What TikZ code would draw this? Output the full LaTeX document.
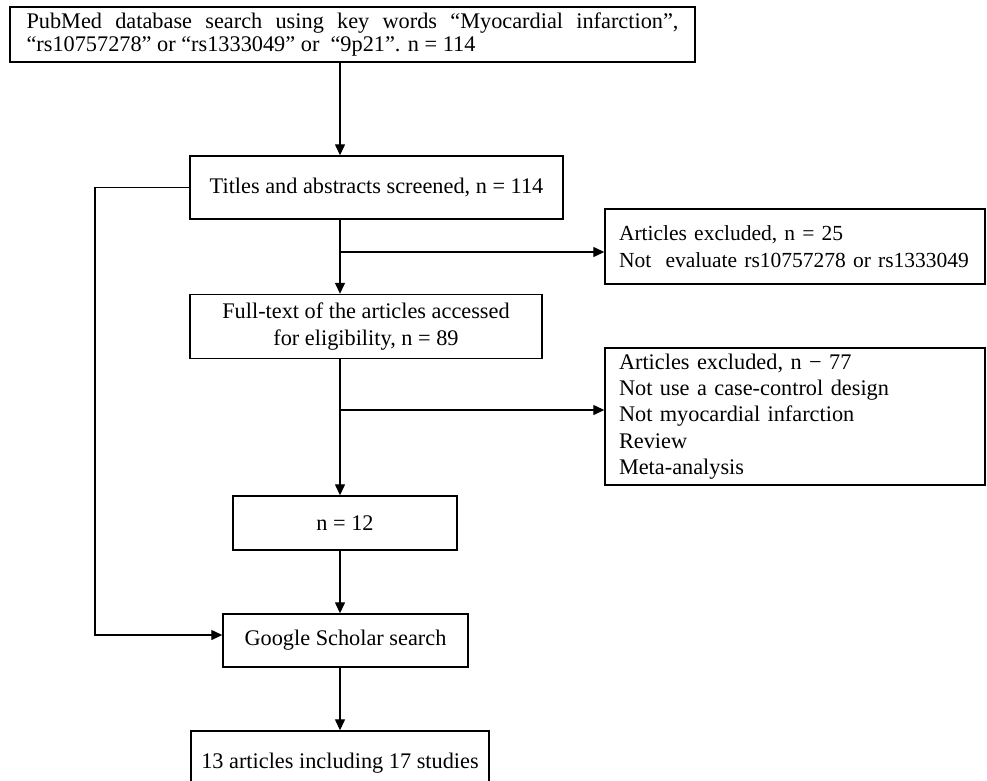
\documentclass[tikz,border=0pt]{standalone}
\usepackage{fontspec}
\setmainfont{Liberation Serif}
\usetikzlibrary{arrows.meta}
\begin{document}
\begin{tikzpicture}[x=1pt,y=-1pt,
  box/.style={draw, line width=1.4pt, inner sep=0pt, font=\fontsize{22.3}{26}\selectfont},
  leftbox/.style={box, align=left, inner xsep=14pt},
  arr/.style={line width=1.3pt, -{Triangle[length=11pt,width=10pt]}},
  ln/.style={line width=1.3pt}]
\useasboundingbox (0,0) rectangle (987,780);
\clip (0,0) rectangle (987,780);

\node[box, minimum width=685pt, minimum height=55pt, text width=652pt, align=justify, inner xsep=16.5pt,
      font=\fontsize{22.3}{22.5}\selectfont] (top) at (352.5,34.5)
  {PubMed database search using key words “Myocardial infarction”,\linebreak
   “rs10757278” or “rs1333049” or\ \ “9p21”. n = 114};

\node[box, minimum width=373pt, minimum height=63pt] (titles) at (376.5,187.5)
  {Titles and abstracts screened, n = 114};

\node[box, minimum width=352pt, minimum height=64pt, align=center,
      font=\fontsize{22.3}{27.5}\selectfont] (full) at (366,326.5)
  {Full-text of the articles accessed\\ for eligibility, n = 89};

\node[leftbox, minimum width=380pt, minimum height=75pt, text width=352pt,
      font=\fontsize{21.5}{27}\selectfont] (excl1) at (795,246.5)
  {\mbox{Articles excluded, n = 25}\\ \mbox{Not\ \ evaluate rs10757278 or rs1333049}};

\node[leftbox, minimum width=380pt, minimum height=137pt, text width=352pt,
      font=\fontsize{22.3}{26.2}\selectfont] (excl2) at (795,416.5)
  {Articles excluded, n − 77\\ Not use a case-control design\\ Not myocardial infarction\\ Review\\ Meta-analysis};

\node[box, minimum width=224pt, minimum height=54pt] (n12) at (345,523) {n = 12};

\node[box, minimum width=245pt, minimum height=53pt] (google) at (345.5,640.5) {Google Scholar search};

\node[box, minimum width=298pt, minimum height=64pt] (final) at (340,763) {13 articles including 17 studies};

\coordinate (spine) at (340,0);
\coordinate (b1) at (340,252);
\coordinate (b2) at (340,410);
\coordinate (loopend) at (95,635);

\draw[arr] (top.south -| spine) -- (titles.north -| spine);
\draw[arr] (titles.south -| spine) -- (full.north -| spine);
\draw[arr] (b1) -- (b1 -| excl1.west);
\draw[arr] (full.south -| spine) -- (n12.north -| spine);
\draw[arr] (b2) -- (b2 -| excl2.west);
\draw[arr] (n12.south -| spine) -- (google.north -| spine);
\draw[arr] (google.south -| spine) -- (final.north -| spine);
\draw[arr] (titles.west) -- (titles.west -| loopend) -- (loopend) -- (loopend -| google.west);
\end{tikzpicture}
\end{document}
